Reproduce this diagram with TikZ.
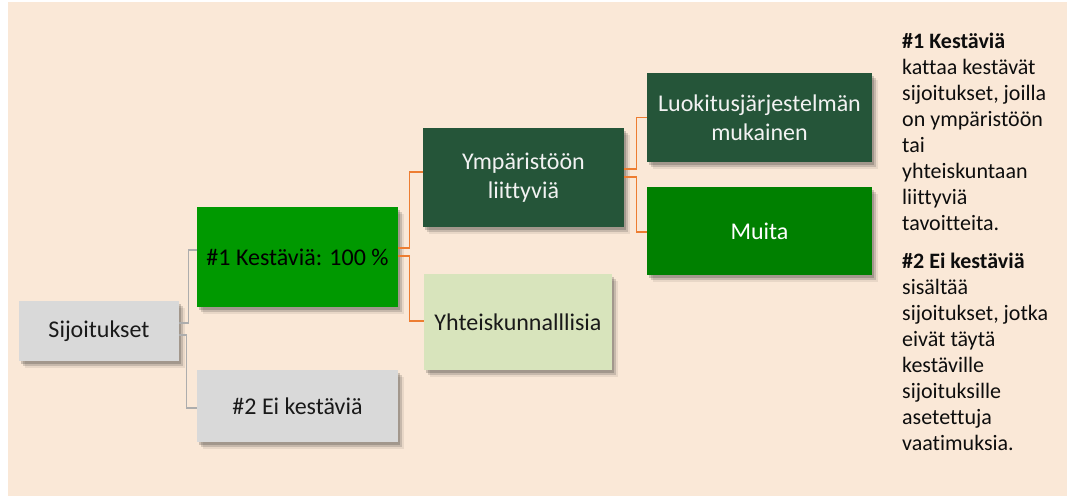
\documentclass[tikz,border=0pt]{standalone}
\usepackage{fontspec}
\setmainfont{Carlito}[Ligatures={NoCommon}]
\usetikzlibrary{shadows,calc}
\definecolor{bgbeige}{HTML}{FAE8D7}
\definecolor{boxgrey}{HTML}{D9D9D9}
\definecolor{brightgreen}{HTML}{009900}
\definecolor{darkgreen}{HTML}{255539}
\definecolor{midgreen}{HTML}{008000}
\definecolor{palegreen}{HTML}{D8E4BC}
\definecolor{linkorange}{HTML}{ED7D31}
\definecolor{linkgrey}{HTML}{ADADAD}
\definecolor{paletext}{HTML}{F2F2F2}
\tikzset{
  softshadow/.style={
    drop shadow={shadow xshift=2pt,shadow yshift=-3pt,fill=black,opacity=.18},
    drop shadow={shadow xshift=4pt,shadow yshift=-5pt,fill=black,opacity=.14},
    drop shadow={shadow xshift=6pt,shadow yshift=-7pt,fill=black,opacity=.07}},
  box/.style={rectangle,inner sep=0pt,align=center,softshadow,
    font=\fontsize{24}{29}\selectfont},
  greylink/.style={draw=linkgrey,line width=1.2pt},
  orangelink/.style={draw=linkorange,line width=1.4pt},
  sidetext/.style={inner sep=0pt,align=left,anchor=north west,
    font=\fontsize{22}{26}\selectfont,text=black!95}
}
\begin{document}
\begin{tikzpicture}[x=1pt,y=-1pt]
\useasboundingbox (0,0) rectangle (1071,497);
\fill[white] (0,0) rectangle (1071,497);
\fill[bgbeige] (8,2) rectangle (1067,496);

\node[box,fill=boxgrey,minimum width=160pt,minimum height=60pt,text=black!90] (sij) at (99,331) {Sijoitukset};
\node[box,fill=brightgreen,minimum width=201pt,minimum height=100pt,text=black] (k1) at (297.5,257) {\#1 Kestäviä: 100 \%};
\node[box,fill=boxgrey,minimum width=201pt,minimum height=72pt,text=black!90] (k2) at (297.5,406) {\#2 Ei kestäviä};
\node[box,fill=darkgreen,minimum width=201pt,minimum height=99pt,text=paletext] (ymp) at (523.5,177.5) {Ympäristöön\\liittyviä};
\node[box,fill=palegreen,minimum width=188pt,minimum height=96pt,text=black!90] (yht) at (518,322) {Yhteiskunnalllisia};
\node[box,fill=darkgreen,minimum width=225pt,minimum height=89pt,text=paletext] (luok) at (759.5,117.5) {Luokitusjärjestelmän\\mukainen};
\node[box,fill=midgreen,minimum width=225pt,minimum height=88pt,text=white] (muita) at (759.5,231) {Muita};

\draw[greylink] ([yshift=8pt]sij.east) -- ++(9,0) |- ([yshift=7pt]k1.west);
\draw[greylink] ([yshift=-4pt]sij.east) -- ++(7,0) |- ([yshift=-2pt]k2.west);
\draw[orangelink] ([yshift=9pt]k1.east) -- ++(11,0) |- ([yshift=5.5pt]ymp.west);
\draw[orangelink] ([yshift=1pt]k1.east) -- ++(11,0) |- ([yshift=1pt]yht.west);
\draw[orangelink] ([yshift=8.5pt]ymp.east) -- ++(12,0) |- (luok.west);
\draw[orangelink] ([yshift=0.5pt]ymp.east) -- ++(12,0) |- ([yshift=-1pt]muita.west);

\node[sidetext] (side) at (902,33) {\textbf{\#1 Kestäviä}\\
kattaa kestävät\\
sijoitukset, joilla\\
on ympäristöön\\
tai\\
yhteiskuntaan\\
liittyviä\\
tavoitteita.\\[12pt]
\textbf{\#2 Ei kestäviä}\\
sisältää\\
sijoitukset, jotka\\
eivät täytä\\
kestäville\\
sijoituksille\\
asetettuja\\
vaatimuksia.};
\end{tikzpicture}
\end{document}
